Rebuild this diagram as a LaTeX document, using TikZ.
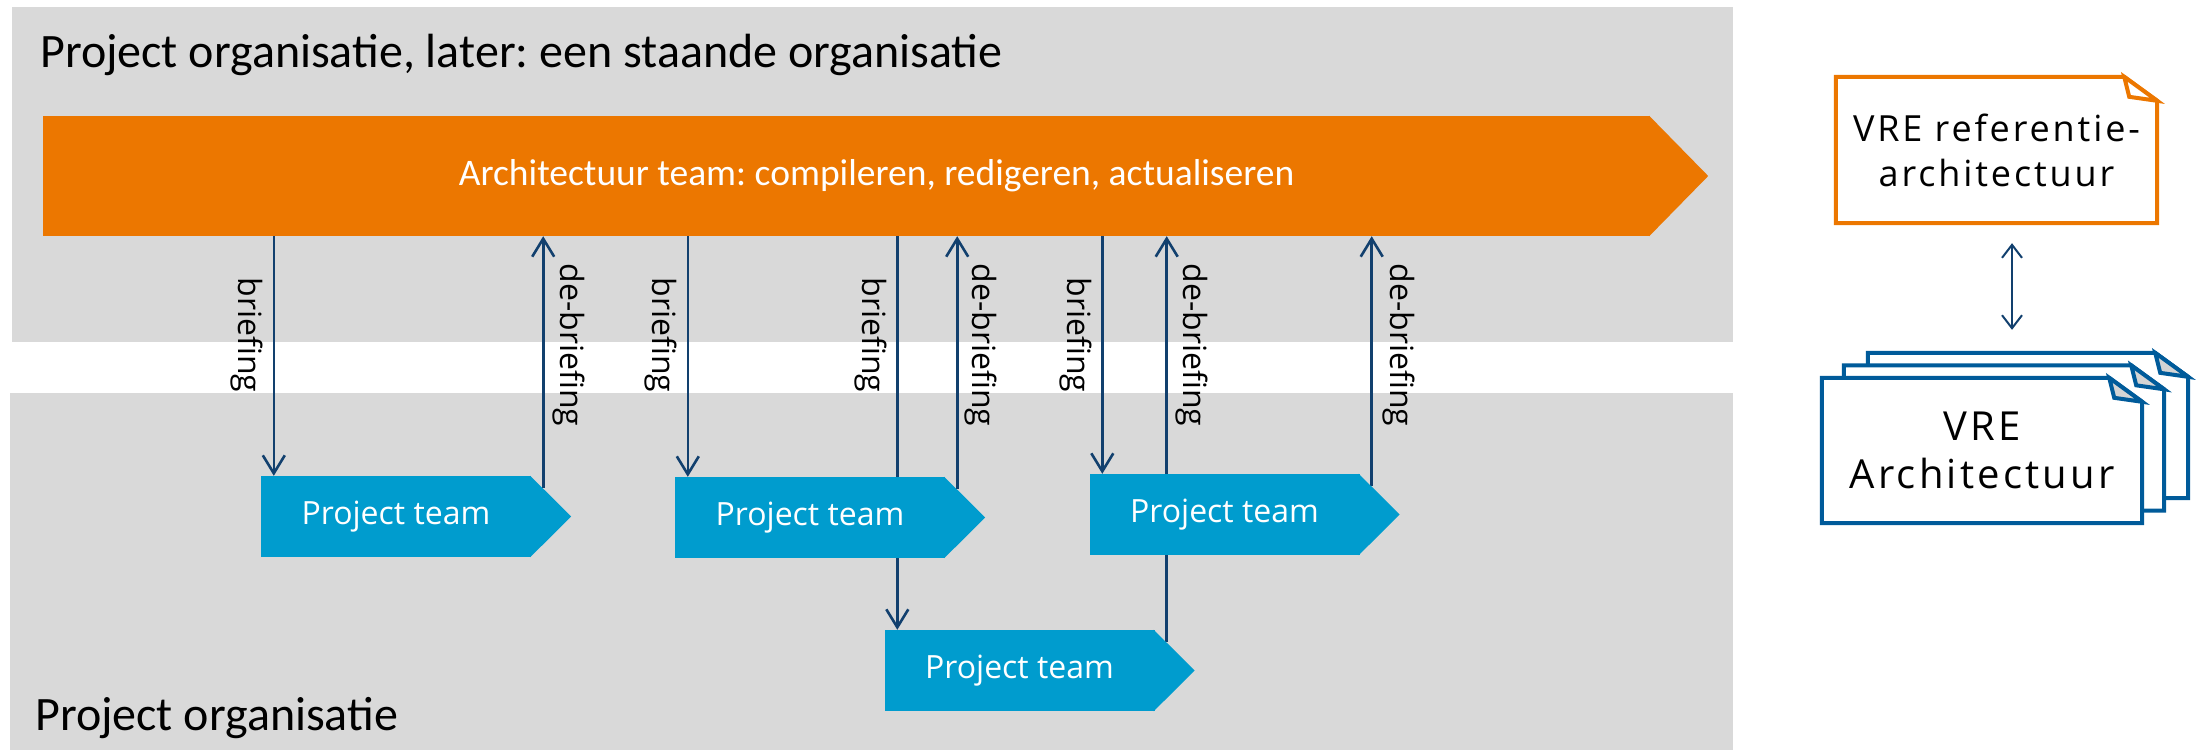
\documentclass[tikz,border=0pt]{standalone}
\usepackage{fontspec}
\setmainfont{Open Sans}
\newfontfamily\calfont{Carlito}
\newfontfamily\docfont[LetterSpace=8]{Open Sans}
\usetikzlibrary{arrows.meta}
\definecolor{bandgrey}{HTML}{D9D9D9}
\definecolor{archorange}{RGB}{236,119,0}
\definecolor{teamcyan}{RGB}{0,156,206}
\definecolor{flowblue}{RGB}{18,64,110}
\definecolor{pageblue}{RGB}{0,91,154}
\definecolor{foldgrey}{RGB}{212,212,212}
\pgfdeclarelayer{bands}
\pgfdeclarelayer{flows}
\pgfsetlayers{bands,flows,main}
\frenchspacing
\begin{document}
\begin{tikzpicture}[x=1pt,y=-1pt,line join=round,
    heading/.style={anchor=base west,inner sep=0pt,font=\calfont\fontsize{48}{58}\selectfont},
    archbar/.style={fill=archorange,text=white,inner sep=0pt,minimum width=1607pt,minimum height=120pt,
      font=\calfont\fontsize{37.5}{44}\selectfont},
    team/.style={fill=teamcyan,text=white,inner sep=0pt,minimum width=270pt,minimum height=81pt,
      font=\fontsize{32}{38}\selectfont},
    flow/.style={flowblue,line width=2.6pt,-{Straight Barb[length=18pt,width=22pt]}},
    link/.style={flowblue,line width=2pt,{Straight Barb[length=13pt,width=20pt]}-{Straight Barb[length=13pt,width=20pt]},
      shorten <=20pt,shorten >=23pt},
    lbl/.style={rotate=-90,inner sep=0pt,font=\fontsize{32}{38}\selectfont},
    page/.style={inner sep=0pt,minimum width=320pt,minimum height=145pt,align=center}]
  \useasboundingbox (0,0) rectangle (2203,750);

  % grey bands
  \begin{pgfonlayer}{bands}
    \fill[bandgrey] (12,7) rectangle (1733,342);
    \fill[bandgrey] (10,393) rectangle (1733,750);
  \end{pgfonlayer}
  \node[heading] (top) at (40,67) {Project organisatie, later: een staande organisatie};
  \node[heading] (bottom) at (35,730) {Project organisatie};

  % architectuur team
  \node[archbar] (arch) at (846.5,176) {\hspace*{60pt}Architectuur team: compileren, redigeren, actualiseren};
  \fill[archorange] ([xshift=-1pt]arch.north east) -- ([xshift=58pt]arch.east) -- ([xshift=-1pt]arch.south east) -- cycle;

  % project teams
  \node[team] (t1) at (396,516.5) {Project team};
  \node[team] (t2) at (810,517.5) {Project team};
  \node[team] (t3) at (1224.5,514.5) {Project team};
  \node[team] (t4) at (1019.5,670.5) {Project team};
  \foreach \t in {t1,t2,t3,t4}
    \fill[teamcyan] ([xshift=-1pt]\t.north east) -- ([xshift=40pt]\t.east) -- ([xshift=-1pt]\t.south east) -- cycle;

  % briefing / de-briefing
  \foreach \t/\b in {t1/b1,t2/b2,t3/b3,t4/b4}
    \coordinate (\b) at ([xshift=13pt]\t.north west);
  \foreach \t/\d in {t1/d1,t2/d2,t3/d3,t4/d4}
    \coordinate (\d) at ([xshift=12pt,yshift=-12pt]\t.north east);
  \begin{pgfonlayer}{flows}
    \foreach \b in {b1,b2,b3,b4}
      \draw[flow] (\b |- arch.south) -- (\b);
    \foreach \d in {d1,d2,d3,d4}
      \draw[flow] (\d) -- (\d |- arch.south);
  \end{pgfonlayer}
  \node[lbl] (l1) at (247,335) {briefing};
  \node[lbl] (l2) at (661,335) {briefing};
  \node[lbl] (l4) at (871,335) {briefing};
  \node[lbl] (l3) at (1076,335) {briefing};
  \node[lbl] (m1) at (569,345) {de-briefing};
  \node[lbl] (m2) at (981,345) {de-briefing};
  \node[lbl] (m4) at (1192,345) {de-briefing};
  \node[lbl] (m3) at (1399,345) {de-briefing};

  % VRE documenten
  \node[page,minimum width=321pt,minimum height=146pt,font=\docfont\fontsize{36}{45}\selectfont] (ref) at (1996.5,150)
    {VRE referentie-\\architectuur};
  \foreach \n/\dx in {vreC/48,vreB/24}
    \node[page] (\n) at ({1980+\dx},{450.5-0.52*\dx}) {};
  \node[page,font=\docfont\fontsize{40}{48}\selectfont] (vreA) at (1982,450.5) {VRE\\Architectuur};
  \begin{pgfonlayer}{flows}
    \foreach \n/\c/\f in {ref/archorange/white,vreC/pageblue/foldgrey,vreB/pageblue/foldgrey,vreA/pageblue/foldgrey}{
      \draw[\c,line width=4pt,fill=white] (\n.south west) -- (\n.north west) -- ([xshift=-33pt]\n.north east)
        -- ([yshift=-24pt]\n.north east) -- (\n.south east) -- cycle;
      \draw[\c,line width=4pt,fill=\f] ([xshift=-33pt]\n.north east) -- ([xshift=-28pt,yshift=-20pt]\n.north east)
        -- ([yshift=-24pt]\n.north east) -- cycle;
    }
  \end{pgfonlayer}
  \coordinate (lk) at ([xshift=15.5pt]ref.south);
  \draw[link] (lk) -- (lk |- vreC.north);
\end{tikzpicture}
\end{document}
